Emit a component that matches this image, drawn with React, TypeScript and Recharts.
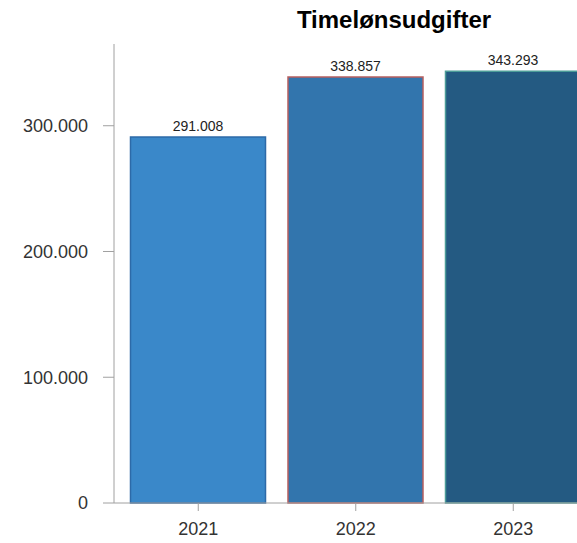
import React from "react";
import { BarChart, Bar, XAxis, YAxis, Cell, LabelList } from "recharts";

const years = ["2021", "2022", "2023"];
const values = [291008, 338857, 343293];
const fills = ["#3a88c9", "#3275ad", "#245a82"];
const strokes = ["#2d6aa8", "#b65f5f", "#4c9c98"];
const yTicks = [0, 100000, 200000, 300000];

const data = years.map((year, i) => ({ year, value: values[i] }));

const fmt = (v: number) => String(Math.round(v)).replace(/\B(?=(\d{3})+(?!\d))/g, ".");

const font = "'Liberation Sans', Arial, sans-serif";

export default function App() {
  return (
    <div style={{ position: "fixed", left: 0, top: 0, width: 577, height: 543, overflow: "hidden", background: "#fff", fontFamily: font }}>
      <div
        style={{
          position: "absolute",
          left: 394,
          top: 6,
          transform: "translateX(-50%)",
          fontSize: 24,
          fontWeight: "bold",
          color: "#000",
          whiteSpace: "nowrap",
        }}
      >
        Timelønsudgifter
      </div>
      <BarChart
        width={600}
        height={543}
        data={data}
        margin={{ top: 44, right: 2.5, left: 0, bottom: 0 }}
        barSize={135}
      >
        <XAxis
          dataKey="year"
          padding={{ left: 5.5, right: 5.5 }}
          height={40}
          tickSize={8}
          tickMargin={11}
          stroke="#a0a0a0"
          tick={{ fill: "#333", fontSize: 18, fontFamily: font }}
        />
        <YAxis
          width={114}
          domain={[0, 365000]}
          ticks={yTicks}
          tickFormatter={fmt}
          tickSize={11}
          tickMargin={15}
          stroke="#a0a0a0"
          tick={{ fill: "#333", fontSize: 18, fontFamily: font }}
        />
        <Bar dataKey="value" isAnimationActive={false} strokeWidth={1.5}>
          {data.map((d, i) => (
            <Cell key={d.year} fill={fills[i]} stroke={strokes[i]} />
          ))}
          <LabelList
            dataKey="value"
            position="top"
            offset={6}
            formatter={(v: any) => fmt(Number(v))}
            style={{ fill: "#222", fontSize: 14, fontFamily: font }}
          />
        </Bar>
      </BarChart>
    </div>
  );
}
